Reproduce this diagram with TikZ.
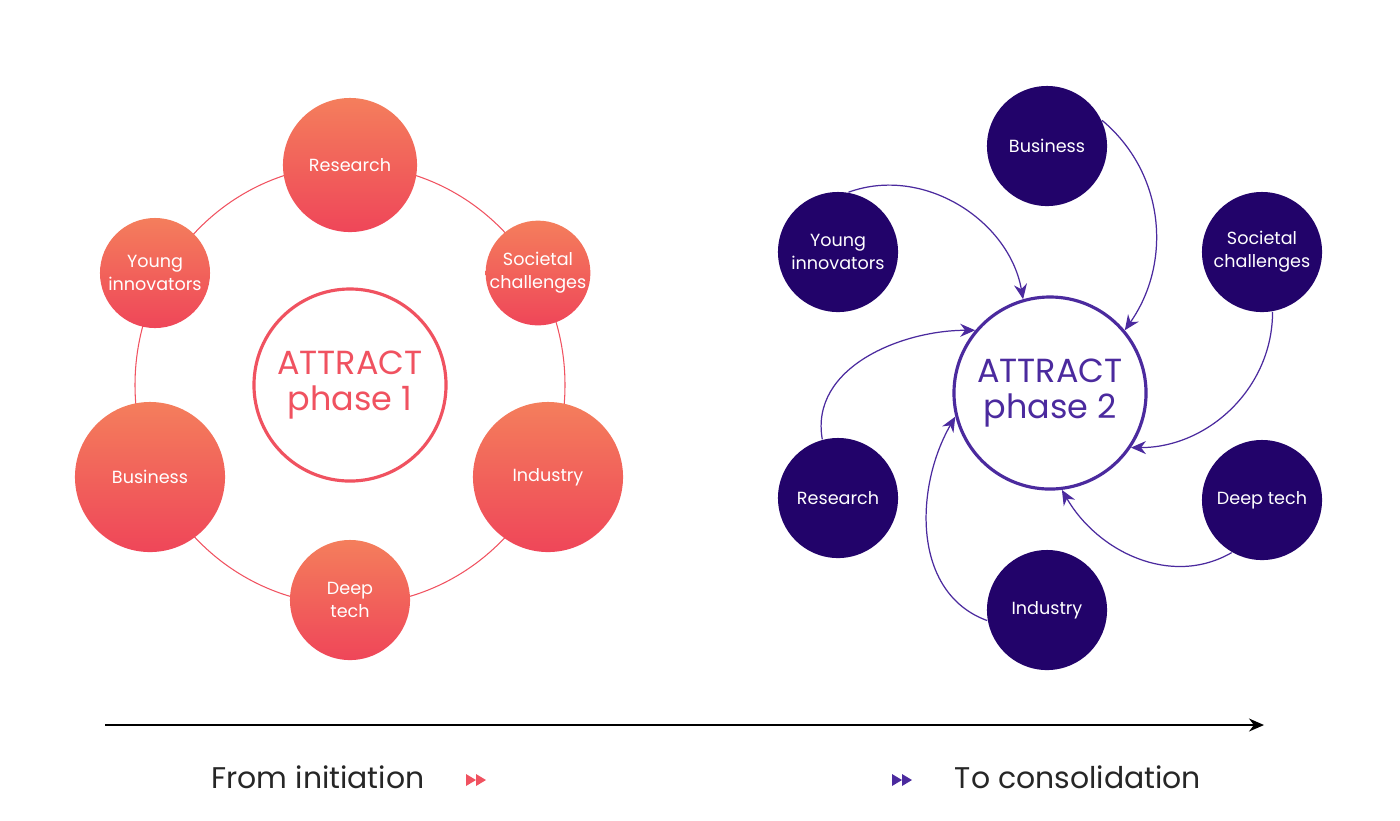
\documentclass[tikz,border=0pt]{standalone}
\usepackage{fontspec}
\setmainfont{Poppins}
\usetikzlibrary{arrows.meta}
\definecolor{coral}{HTML}{F47E5C}
\definecolor{rose}{HTML}{EF4659}
\definecolor{ring}{HTML}{F05260}
\definecolor{navy}{HTML}{22036A}
\definecolor{violet}{HTML}{4B2A9E}
\tikzset{%
  >={Stealth[width=1.3mm,length=1.5mm]},
  % circles of phase 1
  warm/.style  = {circle, top color=coral, bottom color=rose, draw=none, inner sep=0pt,
                  text=white, align=center, font=\fontsize{5}{6.5}\selectfont},
  % circles of phase 2
  cool/.style  = {circle, fill=navy, minimum size=1.2cm, inner sep=0pt,
                  text=white, align=center, font=\fontsize{5}{6.5}\selectfont},
  hub/.style   = {circle, minimum size=1.9cm, line width=0.9pt, fill=white,
                  align=center, font=\fontsize{9.5}{10.5}\selectfont},
  flow/.style  = {->, draw=violet, line width=0.35pt},
  caption/.style = {font=\fontsize{8.5}{10}\selectfont, text=black!85},
}
\begin{document}
\begin{tikzpicture}[x=0.01cm, y=-0.01cm]
  \useasboundingbox (0,0) rectangle (1400,820);
  % phase 1
  \draw[ring, line width=0.3pt] (350,385) ellipse (215 and 220);
  \node (hubA)     [hub, draw=ring, text=ring] at (350,385) {ATTRACT\\phase 1};
  \node (researchA) [warm, minimum size=1.34cm] at (350,165) {Research};
  \node (youngA)    [warm, minimum size=1.1cm]  at (155,273) {Young\\innovators};
  \node (societalA) [warm, minimum size=1.04cm] at (538,273) {Societal\\challenges};
  \node (businessA) [warm, minimum size=1.5cm]  at (150,477) {Business};
  \node (industryA) [warm, minimum size=1.5cm]  at (548,477) {Industry};
  \node (deepA)     [warm, minimum size=1.2cm]  at (350,600) {Deep\\tech};
  % phase 2
  \node (hubB)      [hub, draw=violet, text=violet] at (1050,393) {ATTRACT\\phase 2};
  \node (businessB) [cool] at (1047,146) {Business};
  \node (youngB)    [cool] at (838,252)  {Young\\innovators};
  \node (societalB) [cool] at (1262,252) {Societal\\challenges};
  \node (researchB) [cool] at (838,498)  {Research};
  \node (deepB)     [cool] at (1262,500) {Deep tech};
  \node (industryB) [cool] at (1047,610) {Industry};
  \draw[flow] (youngB.80) to[out=20, in=100] (hubB.106);
  \draw[flow] (businessB.25) to[out=-40, in=55] (hubB.40);
  \draw[flow] (societalB.-80) to[out=-90, in=0] (hubB.-34);
  \draw[flow] (deepB.-120) to[out=-150, in=-60] (hubB.-83);
  \draw[flow] (industryB.-170) to[out=160, in=-120] (hubB.-166);
  \draw[flow] (researchB.105) to[out=100, in=180] (hubB.140);
  % timeline
  \coordinate (start) at (105,725);
  \coordinate (stop)  at (1264,725);
  \draw[->, line width=0.4pt] (start) -- (stop);
  \node (from) [caption] at (318,777) {From initiation};
  \node (to)   [caption] at (1078,777) {To consolidation};
  \foreach \x in {466,476} \fill[ring] (\x,774) -- (\x+10,780) -- (\x,786) -- cycle;
  \foreach \x in {892,902} \fill[violet] (\x,774) -- (\x+10,780) -- (\x,786) -- cycle;
\end{tikzpicture}
\end{document}
